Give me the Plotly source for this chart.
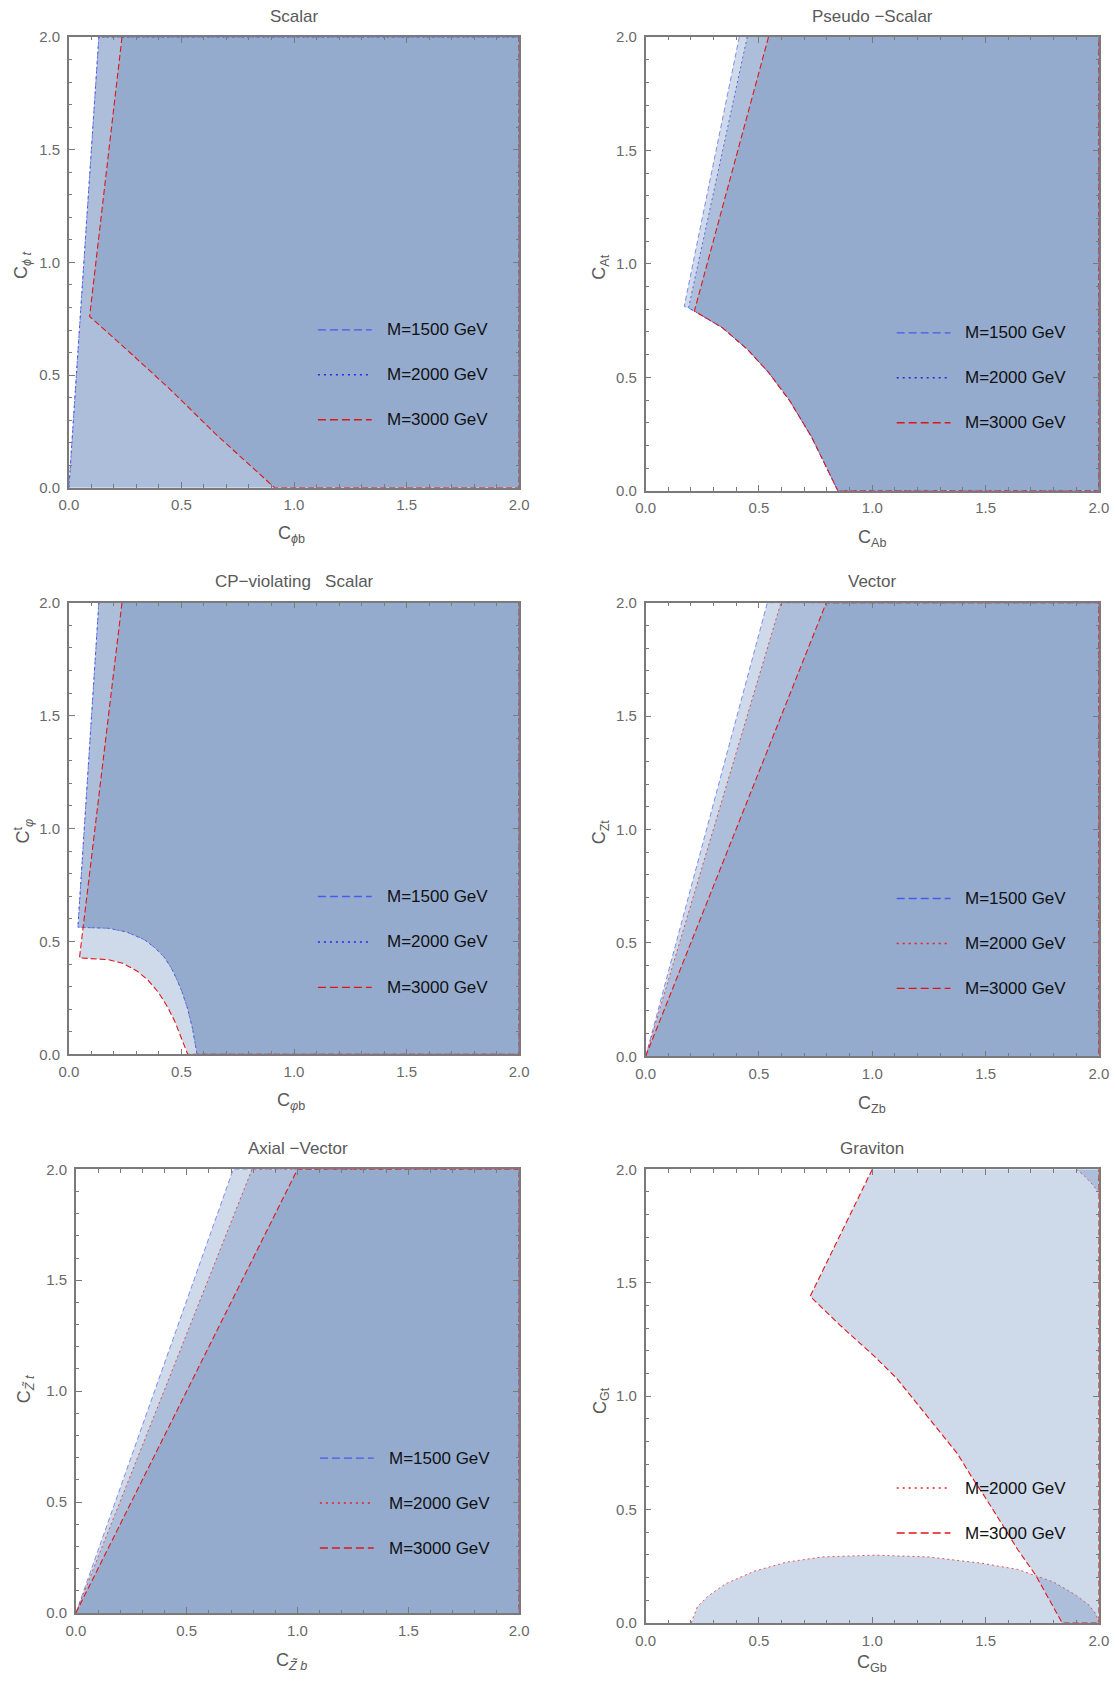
import plotly.graph_objects as go

W, H = 1115, 1685
PAGE_PAD = 8  # default body margin of the html page

# ------------------------------------------------------------------
# DATA : boundaries of the allowed regions (closed polygons, x / y)
# ------------------------------------------------------------------
# Scalar
scalar_m1500_x = [0.0, 0.133, 2.0, 2.0]
scalar_m1500_y = [0.0, 2.0, 2.0, 0.0]
scalar_m2000_x = [0.0, 0.133, 2.0, 2.0]
scalar_m2000_y = [0.0, 2.0, 2.0, 0.0]
scalar_m3000_x = [0.236, 0.092, 0.272, 0.446, 0.651, 0.914, 2.0, 2.0]
scalar_m3000_y = [2.0, 0.760, 0.599, 0.440, 0.239, 0.0, 0.0, 2.0]

# Pseudo-Scalar
pseudo_m1500_x = [0.413, 0.170, 0.189, 0.215, 0.338, 0.448, 0.542, 0.636, 0.731, 0.793, 0.848, 2.0, 2.0]
pseudo_m1500_y = [2.0, 0.813, 0.805, 0.792, 0.719, 0.624, 0.522, 0.396, 0.239, 0.113, 0.0, 0.0, 2.0]
pseudo_m2000_x = [0.448, 0.189, 0.215, 0.338, 0.448, 0.542, 0.636, 0.731, 0.793, 0.848, 2.0, 2.0]
pseudo_m2000_y = [2.0, 0.805, 0.792, 0.719, 0.624, 0.522, 0.396, 0.239, 0.113, 0.0, 0.0, 2.0]
pseudo_m3000_x = [0.542, 0.215, 0.338, 0.448, 0.542, 0.636, 0.731, 0.793, 0.848, 2.0, 2.0]
pseudo_m3000_y = [2.0, 0.792, 0.719, 0.624, 0.522, 0.396, 0.239, 0.113, 0.0, 0.0, 2.0]

# CP-violating Scalar
cp_m1500_x = [0.133, 0.040, 0.177, 0.256, 0.335, 0.383, 0.422, 0.454, 0.477, 0.501, 0.525,
              0.549, 0.569, 2.0, 2.0]
cp_m1500_y = [2.0, 0.563, 0.558, 0.542, 0.508, 0.471, 0.432, 0.384, 0.337, 0.281, 0.210,
              0.115, 0.0, 0.0, 2.0]
cp_m2000_x = [0.133, 0.040, 0.177, 0.256, 0.335, 0.383, 0.422, 0.454, 0.477, 0.501, 0.525,
              0.549, 0.569, 2.0, 2.0]
cp_m2000_y = [2.0, 0.563, 0.558, 0.542, 0.508, 0.471, 0.432, 0.384, 0.337, 0.281, 0.210,
              0.115, 0.0, 0.0, 2.0]
cp_m3000_x = [0.236, 0.047, 0.177, 0.240, 0.304, 0.351, 0.398, 0.438, 0.470, 0.501, 0.528, 2.0, 2.0]
cp_m3000_y = [2.0, 0.427, 0.419, 0.403, 0.368, 0.329, 0.274, 0.210, 0.147, 0.068, 0.0, 0.0, 2.0]

# Vector
vector_m1500_x = [0.0, 0.537, 2.0, 2.0]
vector_m1500_y = [0.0, 2.0, 2.0, 0.0]
vector_m2000_x = [0.0, 0.597, 2.0, 2.0]
vector_m2000_y = [0.0, 2.0, 2.0, 0.0]
vector_m3000_x = [0.0, 0.797, 2.0, 2.0]
vector_m3000_y = [0.0, 2.0, 2.0, 0.0]

# Axial-Vector
axial_m1500_x = [0.0, 0.710, 2.0, 2.0]
axial_m1500_y = [0.0, 2.0, 2.0, 0.0]
axial_m2000_x = [0.0, 0.795, 2.0, 2.0]
axial_m2000_y = [0.0, 2.0, 2.0, 0.0]
axial_m3000_x = [0.0, 1.0, 2.0, 2.0]
axial_m3000_y = [0.0, 2.0, 2.0, 0.0]

# Graviton
grav_m2000_x = [0.201, 0.228, 0.275, 0.353, 0.479, 0.621, 0.778, 1.013, 1.249, 1.485, 1.642,
                1.799, 1.893, 1.956, 1.987, 2.0]
grav_m2000_y = [0.0, 0.071, 0.118, 0.173, 0.228, 0.268, 0.291, 0.299, 0.291, 0.263, 0.236,
                0.181, 0.126, 0.079, 0.039, 0.0]
grav_m2000_corner_x = [1.901, 1.94, 1.97, 2.0, 2.0]
grav_m2000_corner_y = [2.0, 1.967, 1.935, 1.896, 2.0]
grav_m3000_x = [1.0, 0.726, 0.856, 1.013, 1.108, 1.202, 1.296, 1.375, 1.438, 1.500, 1.579,
                1.642, 1.720, 1.783, 1.838, 2.0, 2.0]
grav_m3000_y = [2.0, 1.440, 1.314, 1.172, 1.078, 0.960, 0.842, 0.747, 0.645, 0.551, 0.425,
                0.323, 0.212, 0.102, 0.0, 0.0, 2.0]

titles = ["Scalar", "Pseudo \u2212Scalar", "CP\u2212violating   Scalar", "Vector",
          "Axial \u2212Vector", "Graviton"]
mass_labels = ["M=1500 GeV", "M=2000 GeV", "M=3000 GeV"]
tick_vals = [0.0, 0.5, 1.0, 1.5, 2.0]
tick_text = ["0.0", "0.5", "1.0", "1.5", "2.0"]

# ------------------------------------------------------------------
# STYLES
# ------------------------------------------------------------------
FILL = "rgba(94,128,182,0.30)"
STY = {
    "bdash": dict(color="rgba(70,90,240,0.65)", dash="5px,3px", width=1),
    "bdot": dict(color="rgba(40,40,230,0.65)", dash="2px,3px", width=1),
    "rdash": dict(color="rgb(230,20,20)", dash="6px,3px", width=1.1),
    "rdot": dict(color="rgba(235,30,30,0.75)", dash="2px,3px", width=1),
}
LEG_STY = {
    "bdash": dict(color="rgb(70,90,240)", dash="8px,4px", width=1.4),
    "bdot": dict(color="rgb(40,40,230)", dash="2px,4px", width=1.4),
    "rdash": dict(color="rgb(225,20,20)", dash="8px,4px", width=1.4),
    "rdot": dict(color="rgb(235,30,30)", dash="2px,4px", width=1.4),
}

# panel boxes in target pixels: (left, top, right, bottom)
panels = [
    dict(box=(67, 36, 519, 487),
         regions=[(scalar_m1500_x, scalar_m1500_y, "bdash"),
                  (scalar_m2000_x, scalar_m2000_y, "bdot"),
                  (scalar_m3000_x, scalar_m3000_y, "rdash")],
         legend=[(0, "bdash"), (1, "bdot"), (2, "rdash")], leg=(317, 329, 45),
         xlab="C<sub><i>\u03d5</i>b</sub>", ylab="C<sub><i>\u03d5 t</i></sub>",
         xlab_pos=(290, 534), ylab_pos=(21, 264)),
    dict(box=(646, 36, 1101, 490),
         regions=[(pseudo_m1500_x, pseudo_m1500_y, "bdash"),
                  (pseudo_m2000_x, pseudo_m2000_y, "bdot"),
                  (pseudo_m3000_x, pseudo_m3000_y, "rdash")],
         legend=[(0, "bdash"), (1, "bdot"), (2, "rdash")], leg=(898, 332, 45),
         xlab="C<sub>Ab</sub>", ylab="C<sub>At</sub>",
         xlab_pos=(873, 538), ylab_pos=(601, 266)),
    dict(box=(67, 602, 519, 1054),
         regions=[(cp_m1500_x, cp_m1500_y, "bdash"),
                  (cp_m2000_x, cp_m2000_y, "bdot"),
                  (cp_m3000_x, cp_m3000_y, "rdash")],
         legend=[(0, "bdash"), (1, "bdot"), (2, "rdash")], leg=(317, 896, 45.5),
         xlab="C<sub><i>\u03c6</i>b</sub>", ylab="C<sup>t</sup><sub><i>\u03c6</i></sub>",
         xlab_pos=(290, 1101), ylab_pos=(21, 831)),
    dict(box=(646, 602, 1101, 1056),
         regions=[(vector_m1500_x, vector_m1500_y, "bdash"),
                  (vector_m2000_x, vector_m2000_y, "rdot"),
                  (vector_m3000_x, vector_m3000_y, "rdash")],
         legend=[(0, "bdash"), (1, "rdot"), (2, "rdash")], leg=(898, 898, 45),
         xlab="C<sub>Zb</sub>", ylab="C<sub>Zt</sub>",
         xlab_pos=(873, 1104), ylab_pos=(601, 831)),
    dict(box=(74, 1169, 519, 1613),
         regions=[(axial_m1500_x, axial_m1500_y, "bdash"),
                  (axial_m2000_x, axial_m2000_y, "rdot"),
                  (axial_m3000_x, axial_m3000_y, "rdash")],
         legend=[(0, "bdash"), (1, "rdot"), (2, "rdash")], leg=(319, 1458, 45),
         xlab="C<sub><i>Z\u0303 b</i></sub>", ylab="C<sub><i>Z\u0303 t</i></sub>",
         xlab_pos=(290, 1662), ylab_pos=(23, 1389)),
    dict(box=(646, 1169, 1101, 1623),
         regions=[(grav_m2000_x, grav_m2000_y, "rdot"),
                  (grav_m2000_corner_x, grav_m2000_corner_y, "rdot"),
                  (grav_m3000_x, grav_m3000_y, "rdash")],
         legend=[(1, "rdot"), (2, "rdash")], leg=(898, 1488, 45),
         xlab="C<sub>Gb</sub>", ylab="C<sub>Gt</sub>",
         xlab_pos=(873, 1664), ylab_pos=(601, 1400)),
]

# the page (figure + body margin) is captured and fitted back to W x H
SX = (W + 2 * PAGE_PAD) / W
SY = (H + 2 * PAGE_PAD) / H


def px(x):
    return (x * SX - PAGE_PAD) / W


def py(y):
    return 1 - (y * SY - PAGE_PAD) / H


fig = go.Figure()
layout = dict(width=W, height=H, margin=dict(l=0, r=0, t=0, b=0),
              paper_bgcolor="white", plot_bgcolor="white", showlegend=False,
              font=dict(family="Liberation Sans, Arial, sans-serif"))
shapes, annotations = [], []

AXCOL = "#7a7a7a"
for i, p in enumerate(panels, start=1):
    xa = "x" if i == 1 else f"x{i}"
    ya = "y" if i == 1 else f"y{i}"
    L, T, R, B = p["box"]
    common = dict(range=[0, 2], showgrid=False, zeroline=False, showline=True,
                  linecolor=AXCOL, linewidth=1.5, mirror="ticks", ticks="inside",
                  ticklen=6, tickwidth=1, tickcolor=AXCOL, tickvals=tick_vals,
                  ticktext=tick_text, tickfont=dict(size=15, color="#6a6a6a"),
                  minor=dict(dtick=0.1, ticks="inside", ticklen=3.5, tickcolor=AXCOL,
                             tickwidth=1, showgrid=False),
                  fixedrange=True)
    layout["xaxis" if i == 1 else f"xaxis{i}"] = dict(
        common, domain=[px(L), px(R)], anchor=ya, ticklabelstandoff=3)
    layout["yaxis" if i == 1 else f"yaxis{i}"] = dict(
        common, domain=[py(B), py(T)], anchor=xa, ticklabelstandoff=4)

    for (rx, ry, st) in p["regions"]:
        fig.add_trace(go.Scatter(x=rx, y=ry, xaxis=xa, yaxis=ya, mode="lines",
                                 fill="toself", fillcolor=FILL, line=STY[st],
                                 hoverinfo="skip"))

    # title
    annotations.append(dict(text=titles[i - 1], x=px((L + R) / 2), y=py(T - 21),
                            xref="paper", yref="paper", showarrow=False,
                            xanchor="center", yanchor="middle",
                            font=dict(size=17, color="#5a5a5a")))
    # axis labels
    annotations.append(dict(text=p["xlab"], x=px(p["xlab_pos"][0]), y=py(p["xlab_pos"][1]),
                            xref="paper", yref="paper", showarrow=False,
                            xanchor="center", yanchor="middle",
                            font=dict(size=18, color="#5a5a5a")))
    annotations.append(dict(text=p["ylab"], x=px(p["ylab_pos"][0]), y=py(p["ylab_pos"][1]),
                            xref="paper", yref="paper", showarrow=False, textangle=-90,
                            xanchor="center", yanchor="middle",
                            font=dict(size=18, color="#5a5a5a")))
    # legend
    lx, ly, dy = p["leg"]
    for k, (mi, st) in enumerate(p["legend"]):
        yy = ly + k * dy
        shapes.append(dict(type="line", xref="paper", yref="paper",
                           x0=px(lx), x1=px(lx + 54), y0=py(yy), y1=py(yy),
                           line=LEG_STY[st]))
        annotations.append(dict(text=mass_labels[mi], x=px(lx + 67), y=py(yy),
                                xref="paper", yref="paper", showarrow=False,
                                xanchor="left", yanchor="middle",
                                font=dict(size=17, color="#111111")))

layout["shapes"] = shapes
layout["annotations"] = annotations
fig.update_layout(**layout)
fig.write_html("out.html")
